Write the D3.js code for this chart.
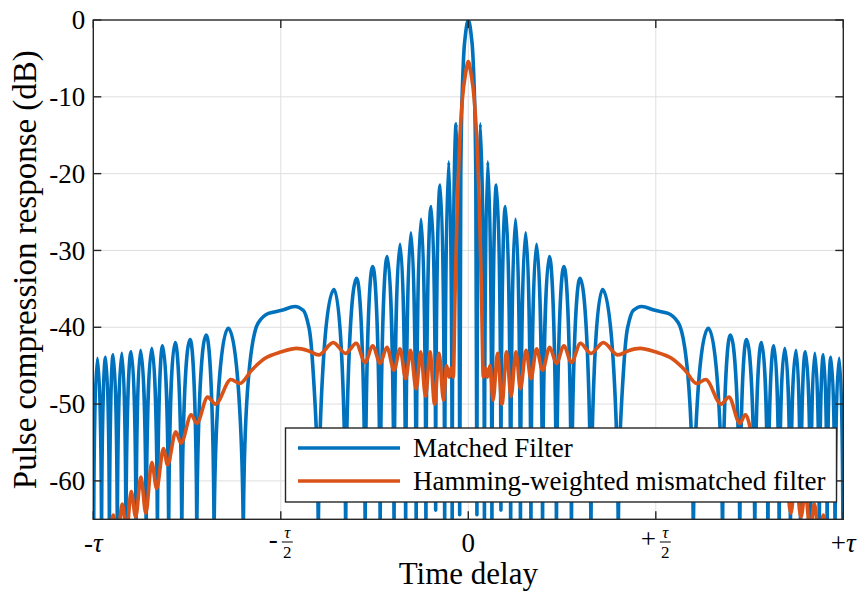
<!DOCTYPE html>
<html>
<head>
<meta charset="utf-8">
<script src="https://cdn.jsdelivr.net/npm/d3@7"></script>
<style>
  body { margin: 0; background: #fff; }
  text { font-family: "Liberation Serif", "Times New Roman", serif; fill: #000; }
</style>
</head>
<body>
<div id="chart"></div>
<script>
'use strict';

// ---- data (delay in units of tau, level in dB) ----
const yTicks = [0, -10, -20, -30, -40, -50, -60];
const xTicks = [-1, -0.5, 0, 0.5, 1];
const xTickSign = ["-", "-", "0", "+", "+"];
const xTickHalf = [false, true, false, true, false];

const legendLabels = ["Matched Filter", "Hamming-weighted mismatched filter"];

// matched filter: lobe peaks and nulls (nulls below the floor are given as -70)
const mfDelay = [
  -0.999, -0.989, -0.978, -0.967, -0.957, -0.947, -0.936, -0.924, -0.913, -0.899,
  -0.886, -0.874, -0.859, -0.844, -0.829, -0.815, -0.799, -0.782, -0.764, -0.742,
  -0.724, -0.699, -0.678, -0.640, -0.600, -0.577, -0.560, -0.533, -0.498, -0.462,
  -0.440, -0.425, -0.415, -0.400, -0.358, -0.327, -0.298, -0.275, -0.255, -0.235,
  -0.216, -0.198, -0.182, -0.167, -0.153, -0.139, -0.126, -0.113, -0.099, -0.087,
  -0.075, -0.063, -0.052, -0.043, -0.032, -0.023, -0.020, -0.0165, -0.010, 0,
  0.010, 0.0165, 0.020, 0.023, 0.032, 0.043, 0.052, 0.063, 0.075, 0.087,
  0.099, 0.113, 0.126, 0.139, 0.153, 0.167, 0.182, 0.198, 0.216, 0.235,
  0.255, 0.275, 0.298, 0.327, 0.358, 0.400, 0.415, 0.425, 0.440, 0.462,
  0.498, 0.533, 0.560, 0.577, 0.600, 0.640, 0.678, 0.699, 0.724, 0.742,
  0.764, 0.782, 0.799, 0.815, 0.829, 0.844, 0.859, 0.874, 0.886, 0.899,
  0.913, 0.924, 0.936, 0.947, 0.957, 0.967, 0.978, 0.989, 0.999
];
const mfLevel = [
  -70, -44.05, -70, -43.9, -70, -43.6, -70, -43.4, -70, -43.2,
  -70, -43.0, -70, -42.75, -70, -42.4, -70, -42.0, -70, -41.6,
  -70, -41.0, -70, -40.15, -70, -42.6, -39.4, -38.2, -37.8, -37.3,
  -37.8, -40.0, -44.8, -70, -35.1, -70, -33.64, -70, -32.1, -70,
  -30.8, -70, -29.2, -70, -27.7, -70, -25.95, -70, -24.3, -63.8,
  -21.5, -70, -18.45, -70, -13.5, -64.4, -20, -10, -3, 0,
  -3, -10, -20, -64.4, -13.5, -70, -18.45, -70, -21.5, -63.8,
  -24.3, -70, -25.95, -70, -27.7, -70, -29.2, -70, -30.8, -70,
  -32.1, -70, -33.64, -70, -35.1, -70, -44.8, -40.0, -37.8, -37.3,
  -37.8, -38.2, -39.4, -42.6, -70, -40.15, -70, -41.0, -70, -41.6,
  -70, -42.0, -70, -42.4, -70, -42.75, -70, -43.0, -70, -43.2,
  -70, -43.4, -70, -43.6, -70, -43.9, -70, -44.05, -70
];

// Hamming-weighted mismatched filter
const hmDelay = [
  -1.000, -0.960, -0.947, -0.935, -0.923, -0.911, -0.899, -0.887, -0.873, -0.860,
  -0.844, -0.831, -0.813, -0.802, -0.780, -0.766, -0.739, -0.724, -0.695, -0.674,
  -0.633, -0.609, -0.578, -0.542, -0.498, -0.458, -0.427, -0.399, -0.360, -0.327,
  -0.299, -0.275, -0.255, -0.235, -0.217, -0.198, -0.182, -0.167, -0.154, -0.139,
  -0.127, -0.114, -0.102, -0.090, -0.078, -0.066, -0.058, -0.051, -0.046, -0.040,
  -0.035, -0.029, -0.024, -0.016, -0.007, 0,
  0.007, 0.016, 0.024, 0.029, 0.035, 0.040, 0.046, 0.051, 0.058, 0.066,
  0.078, 0.090, 0.102, 0.114, 0.127, 0.139, 0.154, 0.167, 0.182, 0.198,
  0.217, 0.235, 0.255, 0.275, 0.299, 0.327, 0.360, 0.399, 0.427, 0.458,
  0.498, 0.542, 0.578, 0.609, 0.633, 0.674, 0.695, 0.724, 0.739, 0.766,
  0.780, 0.802, 0.813, 0.831, 0.844, 0.860, 0.873, 0.887, 0.899, 0.911,
  0.923, 0.935, 0.947, 0.960, 1.000
];
const hmLevel = [
  -74, -69, -64.45, -67.5, -63.0, -66.5, -61.4, -64.7, -59.5, -64.2,
  -57.6, -61.0, -55.8, -57.9, -53.6, -55.1, -51.4, -52.5, -49.1, -50.0,
  -46.8, -47.3, -45.6, -44.05, -43.2, -42.75, -43.05, -43.6, -42.0, -43.4,
  -42.1, -44.6, -42.4, -44.7, -42.6, -45.6, -42.8, -46.7, -43.0, -48.0,
  -43.2, -49.0, -43.2, -50.0, -43.4, -49.5, -45.0, -46.5, -45.3, -46.5,
  -35, -23.4, -16.9, -10.4, -6.9, -5.4,
  -6.9, -10.4, -16.9, -23.4, -35, -46.5, -45.3, -46.5, -45.0, -49.5,
  -43.4, -50.0, -43.2, -49.0, -43.2, -48.0, -43.0, -46.7, -42.8, -45.6,
  -42.6, -44.7, -42.4, -44.6, -42.1, -43.4, -42.0, -43.6, -43.05, -42.75,
  -43.2, -44.05, -45.6, -47.3, -46.8, -50.0, -49.1, -52.5, -51.4, -55.1,
  -53.6, -57.9, -55.8, -61.0, -57.6, -64.2, -59.5, -64.7, -61.4, -66.5,
  -63.0, -67.5, -64.45, -69, -74
];

// ---- layout ----
const W = 862, H = 591;
const plot = { left: 93.3, top: 20, right: 843.3, bottom: 519.3 };
const blue = "#0072BD", orange = "#D95319", ink = "#262626";

const svg = d3.select("#chart").append("svg")
  .attr("width", W).attr("height", H);

const x = d3.scaleLinear().domain([-1, 1]).range([plot.left, plot.right]);
const y = d3.scaleLinear().domain([-65, 0]).range([plot.bottom, plot.top]);

// lobe curve: vertical tangent at minima (nulls), flat at maxima,
// monotone (harmonic mean) slope elsewhere
function curveLobes(context) {
  let pts;
  return {
    areaStart() {}, areaEnd() {},
    lineStart() { pts = []; },
    point(px, py) { pts.push([+px, +py]); },
    lineEnd() {
      const n = pts.length;
      const kind = pts.map((p, i) => {
        const a = pts[i - 1], b = pts[i + 1];
        const lowA = !a || a[1] < p[1], lowB = !b || b[1] < p[1];
        const highA = !a || a[1] > p[1], highB = !b || b[1] > p[1];
        if (lowA && lowB) return { v: true };
        if (highA && highB) return { m: 0 };
        const s0 = (p[1] - a[1]) / (p[0] - a[0]);
        const s1 = (b[1] - p[1]) / (b[0] - p[0]);
        return { m: s0 * s1 <= 0 ? 0 : 2 * s0 * s1 / (s0 + s1) };
      });
      context.moveTo(pts[0][0], pts[0][1]);
      for (let i = 0; i < n - 1; i++) {
        const [x0, y0] = pts[i], [x1, y1] = pts[i + 1];
        const dx = x1 - x0, dy = y1 - y0;
        const t0 = kind[i], t1 = kind[i + 1];
        const k = (t0.v || t1.v) ? 0.55 : 1 / 3;
        const lim = Math.abs(dy);
        const c1 = t0.v ? [x0, y0 + k * dy]
          : [x0 + k * dx, y0 + Math.max(-lim, Math.min(lim, k * dx * t0.m))];
        const c2 = t1.v ? [x1, y1 - k * dy]
          : [x1 - k * dx, y1 - Math.max(-lim, Math.min(lim, k * dx * t1.m))];
        context.bezierCurveTo(c1[0], c1[1], c2[0], c2[1], x1, y1);
      }
    }
  };
}

// ---- grid ----
const grid = svg.append("g").attr("stroke", "#dfdfdf").attr("stroke-width", 1);
grid.selectAll("line.gx").data(xTicks.slice(1, -1)).join("line")
  .attr("class", "gx")
  .attr("x1", d => x(d)).attr("x2", d => x(d))
  .attr("y1", plot.top).attr("y2", plot.bottom);
grid.selectAll("line.gy").data(yTicks.slice(1)).join("line")
  .attr("class", "gy")
  .attr("x1", plot.left).attr("x2", plot.right)
  .attr("y1", d => y(d)).attr("y2", d => y(d));

// ---- data lines ----
svg.append("defs").append("clipPath").attr("id", "clip-plot")
  .append("rect")
  .attr("x", plot.left).attr("y", plot.top)
  .attr("width", plot.right - plot.left).attr("height", plot.bottom - plot.top);

const lines = svg.append("g").attr("clip-path", "url(#clip-plot)")
  .attr("fill", "none").attr("stroke-width", 3.6)
  .attr("stroke-linejoin", "round").attr("stroke-linecap", "round");

const mfLine = d3.line().x(d => x(d[0])).y(d => y(d[1])).curve(curveLobes);
const hmLine = d3.line().x(d => x(d[0])).y(d => y(d[1])).curve(d3.curveMonotoneX);

lines.append("path")
  .datum(d3.zip(mfDelay, mfLevel))
  .attr("stroke", blue)
  .attr("d", mfLine);

lines.append("path")
  .datum(d3.zip(hmDelay, hmLevel))
  .attr("stroke", orange)
  .attr("d", hmLine);

// ---- axes box and ticks ----
const axes = svg.append("g").attr("stroke", ink).attr("stroke-width", 1.4);
axes.append("rect")
  .attr("x", plot.left).attr("y", plot.top)
  .attr("width", plot.right - plot.left).attr("height", plot.bottom - plot.top)
  .attr("fill", "none");

const tickLen = 8;
xTicks.forEach(t => {
  axes.append("line").attr("x1", x(t)).attr("x2", x(t))
    .attr("y1", plot.bottom).attr("y2", plot.bottom - tickLen);
  axes.append("line").attr("x1", x(t)).attr("x2", x(t))
    .attr("y1", plot.top).attr("y2", plot.top + tickLen);
});
yTicks.forEach(t => {
  axes.append("line").attr("x1", plot.left).attr("x2", plot.left + tickLen)
    .attr("y1", y(t)).attr("y2", y(t));
  axes.append("line").attr("x1", plot.right).attr("x2", plot.right - tickLen)
    .attr("y1", y(t)).attr("y2", y(t));
});

// y tick labels
svg.append("g").selectAll("text").data(yTicks).join("text")
  .attr("x", plot.left - 8)
  .attr("y", d => y(d))
  .attr("dy", "0.34em")
  .attr("text-anchor", "end")
  .style("font-size", "27px")
  .text(d => String(d));

// x tick labels (tau and tau/2)
const xl = svg.append("g");
xTicks.forEach((t, i) => {
  const cx = x(t);
  const base = 552;
  if (xTickSign[i] === "0") {
    xl.append("text").attr("x", cx).attr("y", base).attr("text-anchor", "middle")
      .style("font-size", "27px").text("0");
    return;
  }
  const signW = xTickSign[i] === "+" ? 15 : 9;
  if (!xTickHalf[i]) {
    const g = xl.append("text").attr("x", cx).attr("y", base).attr("text-anchor", "middle")
      .style("font-size", "27px");
    g.append("tspan").text(xTickSign[i]);
    g.append("tspan").style("font-style", "italic").text("τ");
    return;
  }
  const fracW = 11;
  const left = cx - (signW + 4 + fracW) / 2;
  xl.append("text").attr("x", left + signW / 2).attr("y", base - 4)
    .attr("text-anchor", "middle").style("font-size", "27px").text(xTickSign[i]);
  const fx = left + signW + 4 + fracW / 2;
  xl.append("text").attr("x", fx).attr("y", base - 14)
    .attr("text-anchor", "middle").style("font-size", "17px")
    .style("font-style", "italic").text("τ");
  xl.append("line").attr("x1", fx - fracW / 2).attr("x2", fx + fracW / 2)
    .attr("y1", base - 10).attr("y2", base - 10)
    .attr("stroke", "#000").attr("stroke-width", 1);
  xl.append("text").attr("x", fx).attr("y", base + 6)
    .attr("text-anchor", "middle").style("font-size", "17px").text("2");
});

// axis titles
svg.append("text")
  .attr("x", (plot.left + plot.right) / 2).attr("y", 584)
  .attr("text-anchor", "middle").style("font-size", "31px")
  .text("Time delay");

svg.append("text")
  .attr("transform", `translate(36,${(plot.top + plot.bottom) / 2}) rotate(-90)`)
  .attr("text-anchor", "middle").style("font-size", "33px")
  .text("Pulse compression response (dB)");

// ---- legend ----
const lg = svg.append("g");
lg.append("rect")
  .attr("x", 285.5).attr("y", 428).attr("width", 551).attr("height", 74)
  .attr("fill", "#fff").attr("stroke", ink).attr("stroke-width", 1.4);
const rows = [ { c: blue, y: 448 }, { c: orange, y: 481 } ];
legendLabels.forEach((lab, i) => {
  lg.append("line").attr("x1", 298).attr("x2", 400)
    .attr("y1", rows[i].y).attr("y2", rows[i].y)
    .attr("stroke", rows[i].c).attr("stroke-width", 3.6);
  lg.append("text").attr("x", 413).attr("y", rows[i].y + 9)
    .style("font-size", "27px").text(lab);
});
</script>
</body>
</html>
